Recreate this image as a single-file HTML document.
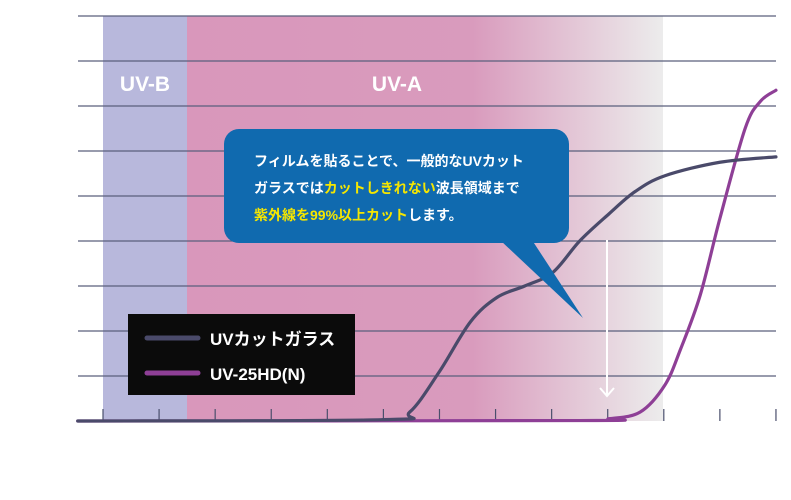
<!DOCTYPE html>
<html><head><meta charset="utf-8"><style>
body{margin:0;background:#fff;width:791px;height:500px;overflow:hidden}
svg{display:block;font-family:"Liberation Sans","Noto Sans CJK JP",sans-serif}
</style></head><body>
<svg id="c" width="791" height="500" viewBox="0 0 791 500">
<defs>
<linearGradient id="ga" x1="187" x2="663" gradientUnits="userSpaceOnUse">
<stop offset="0" stop-color="#d997bb"/><stop offset="0.6" stop-color="#d99bbd"/><stop offset="1" stop-color="#ececec"/>
</linearGradient>
</defs>
<rect x="103" y="16" width="84" height="405" fill="#b8b8dc"/>
<rect x="187" y="16" width="476" height="405" fill="url(#ga)"/>
<g id="grid"></g>
<text x="145" y="91" fill="#fff" font-size="21" font-weight="bold" text-anchor="middle">UV-B</text>
<text x="397" y="91" fill="#fff" font-size="21" font-weight="bold" text-anchor="middle">UV-A</text>
<g stroke="#fff" stroke-width="2" fill="none">
<line x1="607" y1="240" x2="607" y2="396"/><polyline points="600,388 607,396 614,388"/>
</g>
<g id="series"></g>
<g>
<polygon points="500,240 532,240 583,318" fill="#106aaf"/>
<rect x="224" y="129" width="345" height="114" rx="15" fill="#106aaf"/>
<text x="254" y="166" font-size="14" font-weight="bold" fill="#fff">フィルムを貼ることで、一般的なUVカット</text>
<text x="254" y="193" font-size="14" font-weight="bold" fill="#fff">ガラスでは<tspan fill="#f5e600">カットしきれない</tspan>波長領域まで</text>
<text x="254" y="220" font-size="14" font-weight="bold" fill="#f5e600">紫外線を99%以上カット<tspan fill="#fff">します。</tspan></text>
</g>
<g>
<rect x="128" y="314" width="227" height="81" fill="#0b0b0b"/>
<line x1="147" y1="338" x2="198" y2="338" stroke="#4a4a6a" stroke-width="5" stroke-linecap="round"/>
<text x="210" y="345" font-size="17" font-weight="bold" fill="#fff">UVカットガラス</text>
<line x1="147" y1="373" x2="198" y2="373" stroke="#8e3f96" stroke-width="5" stroke-linecap="round"/>
<text x="210" y="380" font-size="17" font-weight="bold" fill="#fff">UV-25HD(N)</text>
</g>
</svg>
<script>
const tickIndex=[0,1,2,3,4,5,6,7,8,9,10,11,12];
const gridValues=[10,20,30,40,50,60,70,80,90];
const glassX=[-0.45,5.0,5.47,6.0,6.55,7.03,7.52,8.02,8.5,9.02,9.49,10.02,11.0,12.0];
const glassY=[0,0.3,2,11,22,27.5,30,33,40,46,51,54.5,57.5,58.7];
const filmX=[-0.45,8.5,9.02,9.58,10.02,10.3,10.65,11.0,11.45,11.72,12.0];
const filmY=[0,0.1,0.5,2,8,16,28,45,65,71,73.5];
const X=i=>103+i*56.08, Y=v=>421-v*4.5;
const ns="http://www.w3.org/2000/svg";
const grid=document.getElementById('grid'), ser=document.getElementById('series');
gridValues.forEach(v=>{const l=document.createElementNS(ns,'line');


l.setAttribute('x1',78);l.setAttribute('x2',776);l.setAttribute('y1',Y(v));l.setAttribute('y2',Y(v));
l.setAttribute('stroke','#5a5f7c');l.setAttribute('stroke-width','1.2');grid.appendChild(l);});
tickIndex.forEach(i=>{const l=document.createElementNS(ns,'line');


l.setAttribute('x1',X(i));l.setAttribute('x2',X(i));l.setAttribute('y1',409);l.setAttribute('y2',421);
l.setAttribute('stroke','#4a4f6c');l.setAttribute('stroke-width','1.2');grid.appendChild(l);});
function path(xs,ys){const p=xs.map((x,i)=>[X(x),Y(ys[i])]);let d='M'+p[0][0]+','+p[0][1];
for(let i=0;i<p.length-1;i++){const p0=p[i-1]||p[i],p1=p[i],p2=p[i+1],p3=p[i+2]||p2;
const c1=[p1[0]+(p2[0]-p0[0])/6,p1[1]+(p2[1]-p0[1])/6],c2=[p2[0]-(p3[0]-p1[0])/6,p2[1]-(p3[1]-p1[1])/6];
d+=' C'+c1+' '+c2+' '+p2;}return d;}
function draw(xs,ys,col,name){const e=document.createElementNS(ns,'path');


e.setAttribute('d',path(xs,ys));e.setAttribute('fill','none');e.setAttribute('stroke',col);e.setAttribute('stroke-width','3.2');e.setAttribute('stroke-linecap','round');ser.appendChild(e);}
draw(filmX,filmY,'#8e3f96','uv-25hd-line');
draw(glassX,glassY,'#4a4a6a','uv-glass-line');
</script>
</body></html>
